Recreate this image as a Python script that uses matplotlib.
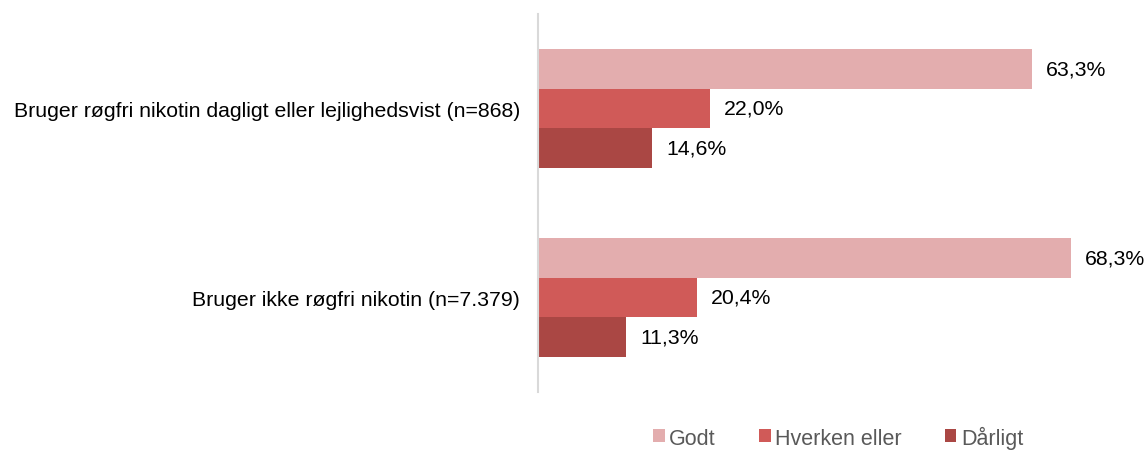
import matplotlib.pyplot as plt
from matplotlib.patches import Patch

plt.rcParams['font.family'] = ['Liberation Sans', 'DejaVu Sans']

groups = ["Bruger røgfri nikotin dagligt eller lejlighedsvist (n=868)",
          "Bruger ikke røgfri nikotin (n=7.379)"]
series = ["Godt", "Hverken eller", "Dårligt"]
godt = [63.3, 68.3]
hverken = [22.0, 20.4]
daarligt = [14.6, 11.3]
colors = ["#E3ADAE", "#D05A58", "#AA4744"]

fig = plt.figure(figsize=(11.48, 4.52), dpi=100)
ax = fig.add_axes([538/1148, 59/452, 602/1148, 378/452])

centers = [1, 0]
h = 0.209
offsets = [h, 0, -h]
for vals, off, col in zip([godt, hverken, daarligt], offsets, colors):
    ys = [c + off for c in centers]
    ax.barh(ys, vals, height=h, color=col, edgecolor="none")
    for y, v in zip(ys, vals):
        ax.text(v + 1.8, y, f"{v:.1f}%".replace(".", ","), va="center", ha="left",
                fontsize=15.3, color="#000000")

ax.set_xlim(0, 602/7.8)
ax.set_ylim(-0.5, 1.5)
ax.set_yticks(centers)
ax.set_yticklabels(groups, fontsize=15.3)
ax.tick_params(axis="y", length=0, pad=13)
ax.set_xticks([])
for s in ["top", "right", "bottom"]:
    ax.spines[s].set_visible(False)
ax.spines["left"].set_color("#D9D9D9")
ax.spines["left"].set_linewidth(1.5)

handles = [Patch(facecolor=c, edgecolor="none") for c in colors]
leg = fig.legend(handles, series, loc="center", bbox_to_anchor=(838/1148, 1 - 438/452),
                 ncol=3, frameon=False, fontsize=15.5, handlelength=0.55, handleheight=0.55,
                 handletextpad=0.2, columnspacing=2.0, borderpad=0)
for t in leg.get_texts():
    t.set_color("#595959")

fig.savefig("out.png", dpi=100)
